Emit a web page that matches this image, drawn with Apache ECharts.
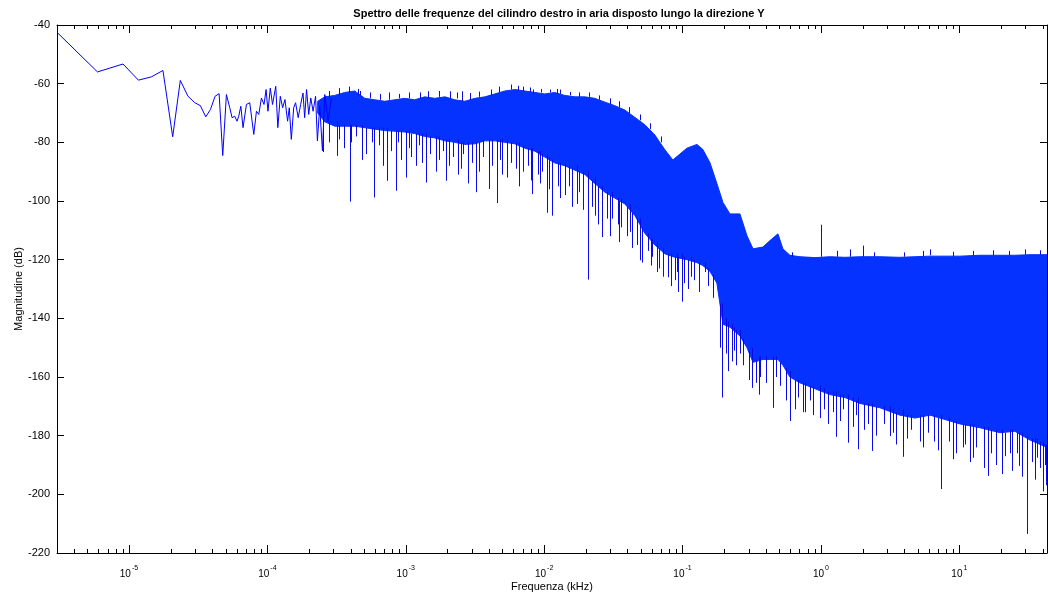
<!DOCTYPE html>
<html>
<head>
<meta charset="utf-8">
<script src="https://cdn.jsdelivr.net/npm/echarts@6/dist/echarts.min.js"></script>
<style>
html,body{margin:0;padding:0;background:#fff;}
#chart{width:1048px;height:597px;}
</style>
</head>
<body>
<div id="chart"></div>
<script>
// ---------- texts ----------
const TITLE = 'Spettro delle frequenze del cilindro destro in aria disposto lungo la direzione Y';
const X_NAME = 'Frequenza (kHz)';
const Y_NAME = 'Magnitudine (dB)';

// ---------- axes ----------
const X_MIN = 3.02e-6, X_MAX = 43.0;
const Y_MIN = -220, Y_MAX = -40, Y_STEP = 20;
const X_MINOR_MULT = [2, 3, 4, 5, 6, 7, 8, 9];
const X_MINOR_EXP = [-6, -5, -4, -3, -2, -1, 0, 1];

// ---------- low-frequency resolved line (kHz, dB) ----------
const lineFreq = [3.02e-6, 5.92e-6, 9.06e-6, 1.17e-5, 1.45e-5, 1.76e-5, 2.07e-5, 2.35e-5, 2.67e-5, 2.99e-5,
  3.28e-5, 3.59e-5, 3.88e-5, 4.19e-5, 4.48e-5, 4.76e-5, 5.06e-5, 5.35e-5, 5.56e-5, 5.81e-5,
  6.04e-5, 6.21e-5, 6.43e-5, 6.67e-5, 7.06e-5, 7.46e-5, 7.98e-5, 8.34e-5, 8.67e-5, 9.06e-5,
  9.46e-5, 9.79e-5, 1.01e-4, 1.05e-4, 1.09e-4, 1.15e-4, 1.19e-4, 1.24e-4, 1.29e-4, 1.34e-4,
  1.40e-4, 1.44e-4, 1.49e-4, 1.55e-4, 1.60e-4, 1.67e-4, 1.74e-4, 1.81e-4, 1.86e-4, 1.92e-4,
  1.99e-4, 2.06e-4, 2.14e-4, 2.23e-4, 2.30e-4, 2.39e-4, 2.50e-4, 2.60e-4, 2.75e-4, 2.90e-4];
const lineMag = [-42.5, -56.0, -53.3, -58.8, -57.7, -55.5, -78.1, -58.9, -64.3, -66.5,
  -67.5, -71.3, -68.8, -64.3, -63.4, -84.5, -63.7, -68.2, -71.6, -71.1,
  -72.8, -71.1, -67.7, -75.0, -67.1, -66.5, -77.3, -69.4, -70.5, -64.9,
  -67.1, -62.0, -69.4, -61.5, -67.1, -60.9, -75.0, -64.3, -68.2, -65.4,
  -72.8, -68.2, -79.0, -68.2, -66.5, -71.6, -67.1, -63.2, -71.6, -62.0,
  -70.5, -64.9, -69.4, -64.3, -79.5, -67.7, -82.9, -63.7, -72.8, -64.9];

// ---------- dense band: upper / lower envelope (kHz, dB) ----------
const bandFreq = [2.31e-4, 2.60e-4, 3.07e-4, 3.62e-4, 4.28e-4, 5.06e-4, 5.97e-4, 7.06e-4, 8.34e-4, 9.84e-4,
  1.16e-3, 1.37e-3, 1.62e-3, 1.92e-3, 2.26e-3, 2.67e-3, 3.16e-3, 3.73e-3, 4.40e-3, 5.20e-3,
  6.14e-3, 7.26e-3, 8.57e-3, 1.01e-2, 1.19e-2, 1.41e-2, 1.67e-2, 1.97e-2, 2.32e-2, 2.75e-2,
  3.24e-2, 3.83e-2, 4.53e-2, 5.34e-2, 6.31e-2, 7.45e-2, 8.51e-2, 9.57e-2, 0.1075, 0.127,
  0.140, 0.158, 0.177, 0.196, 0.220, 0.260, 0.292, 0.323, 0.381, 0.428,
  0.489, 0.531, 0.597, 0.705, 0.905, 1.16, 1.49, 1.91, 2.67, 3.72,
  4.78, 6.14, 7.88, 10.1, 14.1, 19.7, 25.2, 32.4, 43.0];
const bandUpper = [-66, -64.5, -64, -63, -62.5, -65, -65.5, -66, -65.5, -65,
  -65.5, -64.5, -65, -64.5, -65.5, -66, -65, -64.5, -63.5, -62.5,
  -62, -62.5, -63, -63.5, -63, -64, -64.5, -64.5, -65, -66.3,
  -67.5, -69, -71.5, -74, -77.5, -82.5, -86, -84, -82, -80.7,
  -82.4, -87, -94, -100.5, -104.4, -104.4, -111.8, -116.3, -115.7, -113.5,
  -111.2, -116.3, -118.5, -119, -119.3, -119, -119.2, -119, -119, -119.2,
  -119, -118.8, -118.8, -118.8, -118.5, -118.5, -118.5, -118.3, -118.3];
const bandLower = [-70, -73, -74.5, -74.5, -74.5, -75, -75.5, -76, -76.2, -76.5,
  -77, -78, -78.5, -79.5, -80, -80.7, -80.5, -79.5, -79.5, -80,
  -80.5, -82, -83, -85, -87, -88, -89.5, -91, -94, -97,
  -99, -101, -105, -111, -115, -118, -119, -119.5, -120, -121,
  -122, -124, -128, -142, -143, -146, -150, -155, -154, -154,
  -154, -156, -160, -162, -164, -166, -167, -169, -170.5, -173,
  -174, -173, -174.5, -176, -177.3, -179, -178.5, -181.5, -184];

// ---------- isolated deep / tall spikes (kHz, from dB, to dB) ----------
const spikeFreq = [2.53e-4, 3.16e-4, 3.94e-4, 4.81e-4, 5.94e-4, 7.38e-4, 8.47e-4, 1.01e-3, 1.18e-3, 1.40e-3,
  1.65e-3, 1.95e-3, 2.38e-3, 2.81e-3, 3.21e-3, 3.98e-3, 4.60e-3, 5.43e-3, 6.56e-3, 8.19e-3,
  9.31e-3, 1.04e-2, 1.14e-2, 1.41e-2, 1.73e-2, 2.06e-2, 2.32e-2, 2.60e-2, 3.08e-2, 3.62e-2,
  4.16e-2, 4.92e-2, 5.62e-2, 6.49e-2, 7.25e-2, 9.06e-2, 9.89e-2, 0.116, 0.145, 0.192,
  0.226, 0.260, 0.315, 0.362, 0.448, 0.597, 0.766, 0.983, 1.28, 1.58,
  1.86, 2.33, 3.15, 3.90, 5.20, 7.33, 9.04, 11.0, 12.6, 16.0,
  20.3, 23.2, 27.1, 30.7, 36.2, 42.1,
  4.53e-4, 1.45e-3, 2.08e-3, 2.53e-3, 6.49e-3, 8.33e-3, 1.23e-2, 0.995, 2.00, 1.62, 6.14];
const spikeFrom = [-72, -73, -74, -74, -75, -75, -76, -76, -77, -77,
  -78, -79, -79, -80, -80, -79, -79, -79, -80, -82,
  -83, -84, -86, -87, -88, -90, -92, -95, -97, -99,
  -101, -106, -111, -114, -116, -118, -118, -119, -121, -135,
  -142, -144, -150, -153, -153, -158, -162, -163, -165, -166,
  -167, -169, -170, -171, -173, -173, -175, -176, -176, -177,
  -178, -178, -179, -180, -181, -183,
  -64, -65, -65, -66, -62.5, -63.5, -63.5, -119, -119, -119, -118.5];
const spikeTo = [-83.3, -84.6, -100.2, -86, -98.8, -93.1, -96.5, -92, -88, -93.7,
  -90, -93.1, -91, -94, -97, -95.9, -100.7, -92, -95, -97.6,
  -94, -104, -105, -98, -101, -126.8, -105, -112.3, -106, -109,
  -110.5, -120.2, -117, -124.2, -125.8, -124.2, -134.3, -125.8, -124.2, -167,
  -154.7, -152, -163.7, -160, -170.5, -175, -172, -174, -180.4, -182.4,
  -184.6, -185.2, -180.1, -187.2, -182, -198.2, -188, -183, -187.5, -193.7,
  -193.1, -186, -190.3, -213.5, -187.5, -196.9,
  -61.8, -62.6, -62.6, -62.6, -60.7, -62, -61.8, -108.1, -115.2, -116.5, -116.5];

// ---------- ragged lower edge (kHz, from dB, to dB) ----------
const lowEdgeFreq = [2.8e-4, 3.3e-4, 3.6e-4, 4.0e-4, 4.4e-4, 5.2e-4, 5.7e-4, 6.4e-4, 6.8e-4, 7.8e-4, 8.8e-4, 9.3e-4,
  1.05e-3, 1.1e-3, 1.25e-3, 1.3e-3, 1.5e-3, 1.75e-3, 1.85e-3, 2.05e-3, 2.2e-3, 2.5e-3, 2.6e-3, 3.0e-3,
  3.4e-3, 3.6e-3, 4.2e-3, 4.8e-3, 5.0e-3, 5.8e-3, 6.3e-3, 7.0e-3, 7.6e-3, 8.0e-3, 9.0e-3, 9.6e-3,
  1.08e-2, 1.25e-2, 1.3e-2, 1.5e-2, 1.6e-2, 1.8e-2, 1.9e-2, 2.2e-2, 2.45e-2, 2.85e-2, 3.0e-2, 3.4e-2,
  3.5e-2, 4.0e-2, 4.3e-2, 4.7e-2, 5.1e-2, 5.9e-2, 6.0e-2, 6.8e-2, 7.8e-2, 8.2e-2, 8.8e-2, 9.3e-2,
  0.103, 0.11, 0.122, 0.132, 0.152, 0.165, 0.185, 0.205, 0.213, 0.235, 0.245, 0.275,
  0.30, 0.34, 0.355, 0.40, 0.47, 0.51, 0.56, 0.65, 0.68, 0.74, 0.83, 0.87,
  1.05, 1.12, 1.22, 1.38, 1.45, 1.7, 1.78, 2.05, 2.2, 2.5, 2.85, 3.3,
  3.5, 4.2, 4.5, 5.5, 5.9, 6.6, 7.0, 8.4, 9.5, 10.6, 12.0, 13.3,
  15.0, 17.0, 18.5, 21.5, 24.0, 26.0, 28.5, 33.5, 35.0, 38.0, 40.0, 41.5];
const lowEdgeFrom = [-73, -74, -74, -74, -74, -75, -75, -75, -75, -76, -76, -76,
  -76, -77, -77, -77, -78, -78, -79, -79, -80, -80, -80, -80,
  -80, -79, -79, -79, -79, -80, -80, -81, -82, -82, -83, -84,
  -85, -87, -87, -88, -89, -90, -90, -93, -95, -97, -98, -99,
  -100, -102, -104, -106, -109, -113, -113, -116, -118, -118, -119, -119,
  -119, -120, -120, -121, -123, -125, -135, -140, -141, -143, -144, -147,
  -151, -154, -153, -153, -153, -155, -157, -161, -161, -162, -163, -163,
  -164, -165, -165, -166, -166, -167, -168, -169, -169, -170, -170, -171,
  -172, -173, -173, -173, -173, -173, -174, -174, -175, -176, -176, -177,
  -177, -178, -178, -179, -178, -179, -179, -181, -181, -182, -182, -183];
const lowEdgeTo = [-80, -79, -82, -80, -78, -84, -80, -81, -88, -83, -80, -86,
  -82, -85, -81, -87, -84, -86, -83, -88, -85, -89, -84, -87,
  -90, -85, -88, -86, -91, -87, -89, -90, -88, -93, -91, -90,
  -96, -95, -99, -95, -102, -97, -103, -102, -108, -106, -112, -108,
  -114, -112, -116, -115, -121, -122, -119, -123, -126, -129, -127, -131,
  -128, -130, -127, -131, -129, -133, -150, -152, -158, -151, -156, -156,
  -161, -162, -166, -162, -160, -163, -168, -171, -167, -172, -168, -173,
  -171, -176, -172, -175, -171, -177, -173, -178, -176, -180, -176, -179,
  -183, -181, -178, -184, -179, -182, -185, -182, -186, -184, -189, -184,
  -191, -186, -190, -187, -192, -186, -194, -189, -195, -191, -199, -190];

// ---------- ragged upper edge (kHz, from dB, to dB) ----------
const upEdgeFreq = [2.8e-4, 3.3e-4, 3.9e-4, 4.7e-4, 5.5e-4, 6.5e-4, 7.6e-4, 9.0e-4, 1.06e-3, 1.27e-3,
  1.75e-3, 2.35e-3, 2.9e-3, 3.4e-3, 4.1e-3, 4.7e-3, 5.8e-3, 7.0e-3, 7.9e-3, 9.5e-3,
  1.1e-2, 1.3e-2, 1.55e-2, 1.8e-2, 2.1e-2, 2.5e-2, 3.0e-2, 3.5e-2, 4.1e-2, 4.9e-2,
  5.8e-2, 7.0e-2, 0.62, 1.3, 2.4, 4.0, 5.5, 9.0, 12.5, 17.5, 23.0, 30.0, 38.0];
const upEdgeFrom = [-65, -64, -63, -64, -65, -65.5, -65.5, -65, -65, -65,
  -64.5, -65, -65.5, -64.5, -64, -63, -62, -62.5, -63, -63,
  -63, -63.5, -64, -64.5, -64.5, -65.5, -67, -68, -70, -72.5,
  -75.5, -80, -119, -119, -119, -119, -119, -119, -118.5, -118.5, -118.5, -118.3, -118.3];
const upEdgeTo = [-62.5, -61.5, -61, -62.5, -63, -63.5, -63, -63.5, -63, -63,
  -62.5, -63, -63.2, -62.7, -62, -61, -60.3, -61, -61.3, -61.8,
  -62, -62, -62.8, -63, -63, -64, -65, -66, -68, -70.5,
  -73.5, -78, -117.5, -117, -117.5, -117.5, -117, -117.3, -117, -116.8, -117, -116.5, -116.8];

// ---------- build ----------
const FONT = "'Liberation Sans', Arial, Helvetica, sans-serif";
const BLUE_FILL = '#0532ff';
const BLUE_LINE = '#0a0ae8';

const minorTicks = [];
X_MINOR_EXP.forEach(e => X_MINOR_MULT.forEach(m => {
  const v = m * Math.pow(10, e);
  if (v > X_MIN && v < X_MAX) minorTicks.push(v);
}));

const lineData = lineFreq.map((f, i) => [f, lineMag[i]]);
const spikeData = []
  .concat(spikeFreq.map((f, i) => [f, spikeFrom[i], spikeTo[i]]))
  .concat(lowEdgeFreq.map((f, i) => [f, lowEdgeFrom[i], lowEdgeTo[i]]))
  .concat(upEdgeFreq.map((f, i) => [f, upEdgeFrom[i], upEdgeTo[i]]));

const chart = echarts.init(document.getElementById('chart'), null, {renderer: 'canvas'});

function expLabel(v) {
  const e = Math.log10(v);
  const r = Math.round(e);
  if (Math.abs(e - r) > 1e-6) return '';
  return '{b|10}{s|' + r + '}';
}

const xCommon = {
  type: 'log', logBase: 10, min: X_MIN, max: X_MAX,
  splitLine: {show: false},
  axisLine: {show: true, lineStyle: {color: '#000', width: 1}},
  axisTick: {show: true, inside: true, length: 8, lineStyle: {color: '#000'}},
  minorTick: {show: false}
};
const yCommon = {
  type: 'value', min: Y_MIN, max: Y_MAX, interval: Y_STEP,
  splitLine: {show: false},
  axisLine: {show: true, onZero: false, lineStyle: {color: '#000', width: 1}},
  axisTick: {show: true, inside: true, length: 7, lineStyle: {color: '#000'}}
};

chart.setOption({
  animation: false,
  backgroundColor: '#fff',
  title: {
    text: TITLE, left: 554, top: 3, textAlign: 'center',
    textStyle: {fontFamily: FONT, fontSize: 11, fontWeight: 'bold', color: '#000'}
  },
  grid: {left: 57, right: 1, top: 25, bottom: 41, containLabel: false},
  xAxis: [
    Object.assign({}, xCommon, {
      position: 'bottom',
      name: X_NAME, nameLocation: 'middle', nameGap: 28, nameMoveOverlap: false,
      nameTextStyle: {fontFamily: FONT, fontSize: 11, color: '#000'},
      axisLabel: {
        show: true, margin: 12, formatter: expLabel, showMinLabel: false, showMaxLabel: false,
        rich: {
          b: {fontFamily: FONT, fontSize: 10, color: '#000', lineHeight: 14, verticalAlign: 'bottom'},
          s: {fontFamily: FONT, fontSize: 7, color: '#000', lineHeight: 14, verticalAlign: 'top', padding: [0, 0, 0, 1]}
        }
      }
    }),
    Object.assign({}, xCommon, {position: 'top', axisLabel: {show: false}})
  ],
  yAxis: [
    Object.assign({}, yCommon, {
      position: 'left',
      name: Y_NAME, nameLocation: 'middle', nameGap: 33, nameRotate: 90, nameMoveOverlap: false,
      nameTextStyle: {fontFamily: FONT, fontSize: 11, color: '#000'},
      axisLabel: {show: true, margin: 7, fontFamily: FONT, fontSize: 11, color: '#000'}
    }),
    Object.assign({}, yCommon, {position: 'right', axisLabel: {show: false}})
  ],
  series: [
    {
      type: 'custom', name: 'band', xAxisIndex: 0, yAxisIndex: 0, clip: true, silent: true, z: 2,
      data: [[bandFreq[0], bandUpper[0]]],
      renderItem: function (params, api) {
        const pts = [];
        for (let i = 0; i < bandFreq.length; i++) pts.push(api.coord([bandFreq[i], bandUpper[i]]));
        for (let i = bandFreq.length - 1; i >= 0; i--) pts.push(api.coord([bandFreq[i], bandLower[i]]));
        return {type: 'polygon', shape: {points: pts}, style: {fill: BLUE_FILL, stroke: BLUE_FILL, lineWidth: 1}};
      }
    },
    {
      type: 'custom', name: 'spikes', xAxisIndex: 0, yAxisIndex: 0, clip: true, silent: true, z: 3,
      encode: {x: 0, y: [1, 2]},
      data: spikeData,
      renderItem: function (params, api) {
        const a = api.coord([api.value(0), api.value(1)]);
        const b = api.coord([api.value(0), api.value(2)]);
        const x = Math.round(a[0]) + 0.5;
        return {type: 'line', shape: {x1: x, y1: a[1], x2: x, y2: b[1]}, style: {stroke: BLUE_LINE, lineWidth: 1}};
      }
    },
    {
      type: 'line', name: 'low', xAxisIndex: 0, yAxisIndex: 0, z: 4,
      data: lineData, showSymbol: false, symbol: 'none', smooth: false,
      lineStyle: {color: '#0000ff', width: 1}
    },
    {
      type: 'custom', name: 'minorTicks', xAxisIndex: 0, yAxisIndex: 0, clip: false, silent: true, z: 5,
      encode: {x: 0},
      data: minorTicks.map(v => [v, Y_MIN]),
      renderItem: function (params, api) {
        const b = api.coord([api.value(0), Y_MIN]);
        const t = api.coord([api.value(0), Y_MAX]);
        const x = Math.round(b[0]) + 0.5;
        return {type: 'group', children: [
          {type: 'line', shape: {x1: x, y1: b[1], x2: x, y2: b[1] - 4}, style: {stroke: '#000', lineWidth: 1}},
          {type: 'line', shape: {x1: x, y1: t[1], x2: x, y2: t[1] + 4}, style: {stroke: '#000', lineWidth: 1}}
        ]};
      }
    }
  ]
});
</script>
</body>
</html>
